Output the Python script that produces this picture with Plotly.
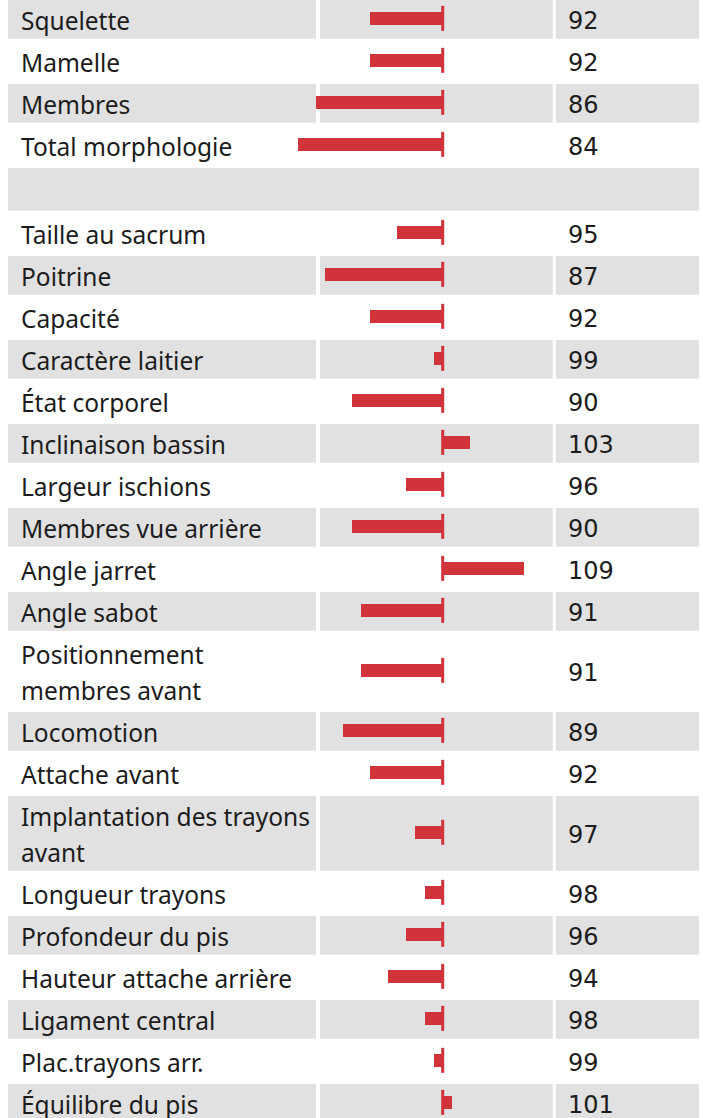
import plotly.graph_objects as go

# ---- data ----
summary_labels = ["Squelette", "Mamelle", "Membres", "Total morphologie"]
summary_values = [92, 92, 86, 84]

trait_labels = [
    "Taille au sacrum", "Poitrine", "Capacité", "Caractère laitier",
    "État corporel", "Inclinaison bassin", "Largeur ischions",
    "Membres vue arrière", "Angle jarret", "Angle sabot",
    "Positionnement<br>membres avant", "Locomotion", "Attache avant",
    "Implantation des trayons<br>avant", "Longueur trayons",
    "Profondeur du pis", "Hauteur attache arrière", "Ligament central",
    "Plac.trayons arr.", "Équilibre du pis",
]
trait_values = [95, 87, 92, 99, 90, 103, 96, 90, 109, 91,
                91, 89, 92, 97, 98, 96, 94, 98, 99, 101]
reference_value = 100

# ---- layout constants (page pixels) ----
OX, OY = 0, 0
FW, FH = 703, 1118
LABEL_FONT = "Noto Sans"
VALUE_FONT = "DejaVu Sans"
FS = 24.5
VFS = 24
TXT = "#1c1c1c"
GRAY = "#e1e1e1"
RED = "#d1333b"
ROW_H = 42
LINE_H = 36
SPACER_H = 46
INSET = 1.67
TOP = -1.67
PX_PER_UNIT = 9.07
CENTER_PX = 442.7


def px(xp):
    return (xp - OX) / FW


def py(yp):
    return yp - OY


rows = []
for l, v in zip(summary_labels, summary_values):
    rows.append((l, v))
rows.append(("", None))  # spacer
for l, v in zip(trait_labels, trait_values):
    rows.append((l, v))

geo = []
y = TOP
for l, v in rows:
    if v is None:
        h = SPACER_H
    else:
        n = l.count("<br>") + 1
        h = ROW_H + (n - 1) * LINE_H
    geo.append((y, y + h))
    y += h

x0 = reference_value - (CENTER_PX - OX) / PX_PER_UNIT
x1 = x0 + FW / PX_PER_UNIT

fig = go.Figure()
shapes = []
annotations = []

cols = [(8, 316), (320, 552.7), (556, 699)]

bar_y, bar_x = [], []
for i, ((l, v), (t, b)) in enumerate(zip(rows, geo)):
    c = (t + b) / 2
    if i % 2 == 0:
        spans = [(8, 699)] if v is None else cols
        for a, e in spans:
            shapes.append(dict(type="rect", xref="paper", yref="y",
                               x0=px(a), x1=px(e),
                               y0=py(t + INSET), y1=py(b - INSET),
                               fillcolor=GRAY, line=dict(width=0), layer="below"))
    if v is None:
        continue
    bc = c - 1
    bar_y.append(py(bc))
    bar_x.append(v - reference_value)
    shapes.append(dict(type="line", xref="x", yref="y",
                       x0=reference_value, x1=reference_value,
                       y0=py(bc - 12.5), y1=py(bc + 12.5),
                       line=dict(color=RED, width=3), layer="above"))
    lines = l.split("<br>")
    n = len(lines)
    for k, ln in enumerate(lines):
        ly = c + 1 + (k - (n - 1) / 2) * LINE_H
        annotations.append(dict(x=px(18.5), xref="paper", y=py(ly), yref="y",
                                text=ln, showarrow=False, xanchor="left",
                                yanchor="middle",
                                font=dict(family=LABEL_FONT, size=FS, color=TXT)))
    annotations.append(dict(x=px(566), xref="paper", y=py(c + 1.5), yref="y",
                            text=str(v), showarrow=False, xanchor="left",
                            yanchor="middle",
                            font=dict(family=VALUE_FONT, size=VFS, color=TXT)))

fig.add_trace(go.Bar(orientation="h", x=bar_x, y=bar_y, base=reference_value,
                     width=12.7, marker=dict(color=RED, line=dict(width=0)),
                     hoverinfo="skip"))

fig.update_layout(
    width=FW, height=FH, margin=dict(l=0, r=0, t=0, b=0),
    paper_bgcolor="white", plot_bgcolor="rgba(0,0,0,0)",
    showlegend=False, shapes=shapes, annotations=annotations,
    xaxis=dict(range=[x0, x1], visible=False, fixedrange=True),
    yaxis=dict(range=[FH, 0], visible=False, fixedrange=True),
    bargap=0,
)

fig.write_html(
    "out.html",
    config={"displayModeBar": False},
    post_script="document.body.style.margin='0';document.body.style.overflow='hidden';",
)
